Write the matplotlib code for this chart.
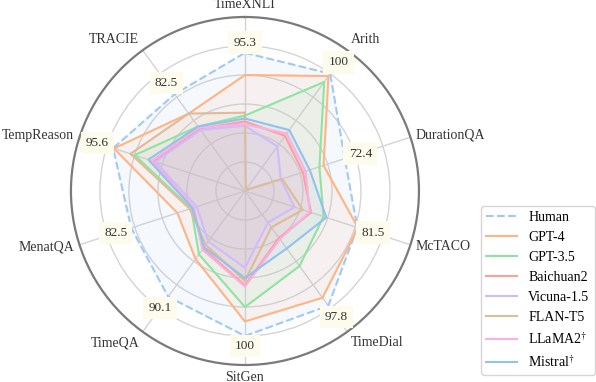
import numpy as np
import matplotlib
matplotlib.use('Agg')
import matplotlib.pyplot as plt

plt.rcParams['font.family'] = 'serif'
plt.rcParams['font.serif'] = ['Liberation Serif', 'DejaVu Serif']
plt.rcParams['mathtext.fontset'] = 'stix'

tasks = ['TimeXNLI', 'Arith', 'DurationQA', 'McTACO', 'TimeDial',
         'SitGen', 'TimeQA', 'MenatQA', 'TempReason', 'TRACIE']

human    = [95.3, 100, 72.4, 81.5, 97.8, 100, 90.1, 82.5, 95.6, 82.5]
gpt4     = [80, 98, 57, 82, 91, 90, 58, 49, 95, 66]
gpt35    = [52, 93, 54, 57, 64, 80, 54, 39, 80, 55]
baichuan = [48, 47, 42, 48, 40, 65, 49, 38, 66, 53]
vicuna   = [45, 38, 26, 36, 27, 53, 43, 35, 65, 52]
flant5   = [54, 1, 27, 42, 31, 62, 46, 40, 83, 66]
llama2   = [46, 49, 44, 47, 41, 66, 50, 37, 67.5, 54]
mistral  = [50, 52, 47, 59, 49, 60, 48, 38, 70, 55]

names = ['Human', 'GPT-4', 'GPT-3.5', 'Baichuan2', 'Vicuna-1.5', 'FLAN-T5',
         'LLaMA2$^{\\dagger}$', 'Mistral$^{\\dagger}$']
series = [human, gpt4, gpt35, baichuan, vicuna, flant5, llama2, mistral]
colors = ['#a1c9f4', '#ffb482', '#8de5a1', '#ff9f9b', '#d0bbff', '#debb9b',
          '#fab0e4', '#92c2f0']

n = len(tasks)
theta = np.arange(n) * 2 * np.pi / n

fig = plt.figure(figsize=(5.96, 3.82), dpi=100)
ax = fig.add_axes([0.119, 0.0445, 0.584, 0.911], projection='polar')
ax.set_theta_zero_location('N')
ax.set_theta_direction(-1)
ax.set_ylim(0, 120)

ang = np.append(theta, theta[0])
for name, vals, c in zip(names, series, colors):
    v = np.append(vals, vals[0])
    ls = '--' if name == 'Human' else '-'
    ax.plot(ang, v, color=c, lw=1.5, ls=ls, label=name, zorder=3)
    ax.fill(ang, v, color=c, alpha=0.1, zorder=2)

ax.set_rgrids([20, 40, 60, 80, 100], labels=[])
ax.set_thetagrids(np.degrees(theta), labels=[])
ax.grid(color='#d4d4d4', lw=1)
ax.spines['polar'].set_color('#7a7a7a')
ax.spines['polar'].set_linewidth(1.6)
ax.tick_params(pad=0)

# task names around the outside
for t, lab in zip(theta, tasks):
    s, c = np.sin(t), np.cos(t)
    if abs(s) < 0.1:
        ha = 'center'
    elif s > 0:
        ha = 'left'
    else:
        ha = 'right'
    if c > 0.5:
        va = 'bottom'
    elif c < -0.5:
        va = 'top'
    else:
        va = 'center'
    ax.text(t, 124, lab, ha=ha, va=va, fontsize=10, color='#333333')

# human score labels
for t, h in zip(theta, human):
    r = h + 7 + 4.5 * abs(np.sin(t))
    ax.text(t, r, f'{h:g}', ha='center', va='center', fontsize=9.5,
            color='#333333', zorder=5,
            bbox=dict(boxstyle='square,pad=0.4', fc='#fcfbec', ec='none'))

fig.legend(loc='lower right', bbox_to_anchor=(0.998, 0.018), fontsize=10,
           borderaxespad=0, frameon=True, edgecolor='#cccccc',
           labelspacing=0.5, handlelength=2.2)

fig.savefig('out.png', dpi=100)
